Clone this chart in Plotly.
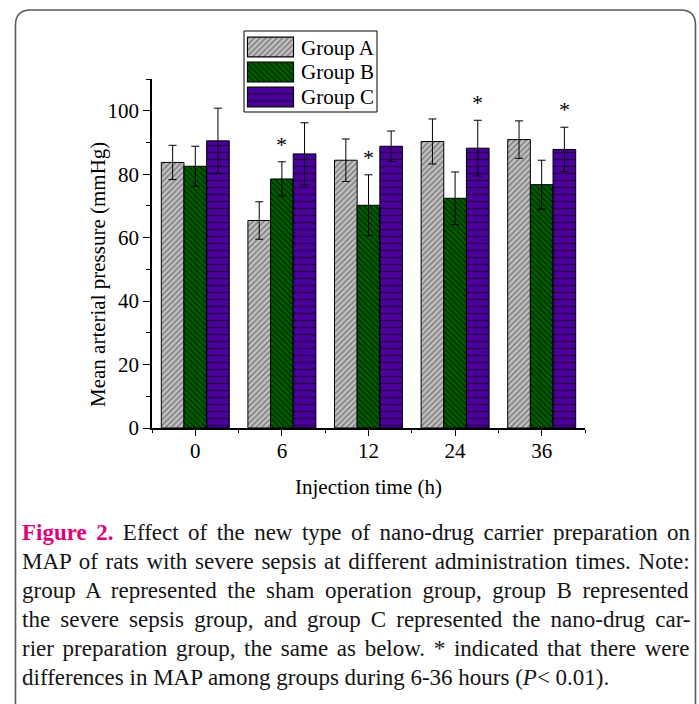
import plotly.graph_objects as go

# ---- data ----
times = ["0", "6", "12", "24", "36"]
groups = ["Group A", "Group B", "Group C"]
group_a = [83.7, 65.4, 84.4, 90.3, 90.9]
group_a_err = [5.4, 5.9, 6.7, 7.1, 5.9]
group_b = [82.5, 78.5, 70.2, 72.4, 76.7]
group_b_err = [6.3, 5.4, 9.6, 8.3, 7.7]
group_c = [90.5, 86.4, 88.8, 88.2, 87.8]
group_c_err = [10.3, 9.8, 4.8, 8.8, 7.0]
star_group = [None, "Group B", "Group B", "Group C", "Group C"]
y_ticks = [0, 20, 40, 60, 80, 100]

caption_lines = [
    "Figure 2. Effect of the new type of nano-drug carrier preparation on",
    "MAP of rats with severe sepsis at different administration times. Note:",
    "group A represented the sham operation group, group B represented",
    "the severe sepsis group, and group C represented the nano-drug car-",
    "rier preparation group, the same as below. * indicated that there were",
    "differences in MAP among groups during 6-36 hours (P< 0.01).",
]

W, H = 699, 704
FONT = "Liberation Serif, Times New Roman, serif"
CAP_SIZE = 23

# Times (Liberation Serif compatible) advance widths, 1/1000 em
_w = {' ': 250, '.': 250, ',': 250, ':': 278, '-': 333, '*': 500, '(': 333, ')': 333, '<': 564}
_w.update({d: 500 for d in "0123456789"})
_w.update(dict(zip("ABCDEFGHIJKLMNOPQRSTUVWXYZ",
                   [722, 667, 667, 722, 611, 556, 722, 722, 333, 389, 722, 611, 889,
                    722, 722, 556, 722, 667, 556, 611, 722, 722, 944, 722, 722, 611])))
_w.update(dict(zip("abcdefghijklmnopqrstuvwxyz",
                   [444, 500, 444, 500, 444, 333, 500, 500, 278, 278, 500, 278, 778,
                    500, 500, 500, 500, 333, 389, 278, 500, 500, 722, 500, 500, 444])))


def text_width(s, size):
    return sum(_w.get(c, 500) for c in s) * size / 1000.0


def px(x):
    return x / W


def py(y):
    return 1 - y / H


styles = {
    "Group A": dict(color="#c3c3c3", pattern=dict(shape="/", bgcolor="#c3c3c3", fgcolor="#3c3c3c", size=4, solidity=0.4)),
    "Group B": dict(color="#005f00", pattern=dict(shape="\\", bgcolor="#005f00", fgcolor="#000000", size=4, solidity=0.4)),
    "Group C": dict(color="#4a0099", pattern=dict(shape="-", bgcolor="#4a0099", fgcolor="#000000", size=7, solidity=0.18)),
}

series = {
    "Group A": (group_a, group_a_err),
    "Group B": (group_b, group_b_err),
    "Group C": (group_c, group_c_err),
}

xpos = list(range(len(times)))
bargap = 0.215

fig = go.Figure()
for g in groups:
    vals, errs = series[g]
    fig.add_trace(go.Bar(
        x=xpos, y=vals, name=g,
        marker=dict(color=styles[g]["color"], pattern=styles[g]["pattern"],
                    line=dict(color="black", width=1)),
        error_y=dict(type="data", array=errs, visible=True, color="black", thickness=1, width=4),
        showlegend=False, xaxis="x", yaxis="y",
    ))

# custom legend swatches (large pattern swatches as in original)
for g in groups:
    fig.add_trace(go.Bar(
        y=[g], x=[1], orientation="h", name=g,
        marker=dict(color=styles[g]["color"], pattern=styles[g]["pattern"],
                    line=dict(color="black", width=1.2)),
        showlegend=False, xaxis="x2", yaxis="y2", hoverinfo="skip",
    ))

bw = (1 - bargap) / 3
offsets = {"Group A": -bw, "Group B": 0.0, "Group C": bw}
annotations = []
for i, sg in enumerate(star_group):
    if sg is None:
        continue
    vals, errs = series[sg]
    annotations.append(dict(
        x=i + offsets[sg], y=vals[i] + errs[i], xref="x", yref="y",
        text="*", showarrow=False, yanchor="bottom", yshift=3,
        font=dict(family=FONT, size=22, color="black"),
    ))

# legend labels
row_centers = [47.5, 71.5, 97.5]
for g, yc in zip(groups, row_centers):
    annotations.append(dict(
        x=px(299), y=py(yc), xref="paper", yref="paper", text=g,
        showarrow=False, xanchor="left", yanchor="middle",
        font=dict(family=FONT, size=21, color="black"),
    ))

# axis titles
annotations.append(dict(
    x=px(98), y=py(275), xref="paper", yref="paper",
    text="Mean arterial pressure (mmHg)", textangle=-90, showarrow=False,
    xanchor="center", yanchor="middle", font=dict(family=FONT, size=21, color="black"),
))
annotations.append(dict(
    x=px(368), y=py(487), xref="paper", yref="paper",
    text="Injection time (h)", showarrow=False,
    xanchor="center", yanchor="middle", font=dict(family=FONT, size=21, color="black"),
))

# caption (justified like the original, except the last line)
line_y = [532, 561, 590, 619, 648, 677]
left, right = 20, 689
n = len(caption_lines)
for k, (t, yc) in enumerate(zip(caption_lines, line_y)):
    natural = text_width(t, CAP_SIZE)
    if k == 0:
        natural += 222 * CAP_SIZE / 1000.0  # bold "Figure 2."
    if "(P<" in t:
        natural += 55 * CAP_SIZE / 1000.0   # italic P
    markup = t.replace("<", "&lt;")
    markup = markup.replace("(P&lt;", "(<i>P</i>&lt;")
    if markup.startswith("Figure 2."):
        markup = "<span style='fill:#e3007b'><b>Figure 2.</b></span>" + markup[len("Figure 2."):]
    if k < n - 1:
        spaces = t.count(" ")
        extra = max(0.0, (right - left - natural) / spaces)
        markup = f"<span style='word-spacing:{extra:.2f}px'>" + markup + "</span>"
    annotations.append(dict(
        x=px(left), y=py(yc), xref="paper", yref="paper", text=markup,
        showarrow=False, xanchor="left", yanchor="middle",
        font=dict(family=FONT, size=CAP_SIZE, color="#141414"),
    ))

shapes = [
    # outer rounded border
    dict(type="path", xref="paper", yref="paper",
         path=(f"M {px(15.5)},{py(720)} L {px(15.5)},{py(25)} "
               f"Q {px(15.5)},{py(10)} {px(30.5)},{py(10)} "
               f"L {px(680.5)},{py(10)} "
               f"Q {px(695.5)},{py(10)} {px(695.5)},{py(25)} "
               f"L {px(695.5)},{py(720)}"),
         line=dict(color="#5a5a5a", width=1.6)),
    # legend frame
    dict(type="rect", xref="paper", yref="paper",
         x0=px(244), x1=px(377), y0=py(112), y1=py(31),
         line=dict(color="black", width=1)),
]

fig.update_layout(
    width=W, height=H, autosize=False,
    margin=dict(l=0, r=0, t=0, b=0),
    paper_bgcolor="white", plot_bgcolor="white",
    barmode="group", bargap=bargap, bargroupgap=0,
    font=dict(family=FONT, size=21, color="black"),
    showlegend=False,
    xaxis=dict(
        domain=[px(152), px(585)], range=[-0.5, 4.5],
        tickmode="array", tickvals=xpos, ticktext=times,
        ticks="outside", ticklen=6, tickwidth=1.2, tickcolor="black",
        minor=dict(tickmode="linear", tick0=-0.5, dtick=1, ticks="outside", ticklen=3, tickwidth=1, tickcolor="black"),
        showline=True, linecolor="black", linewidth=1.5,
        showgrid=False, zeroline=False, automargin=False,
        tickfont=dict(family=FONT, size=21, color="black"),
        ticklabelstandoff=-3,
        anchor="y", fixedrange=True,
    ),
    yaxis=dict(
        domain=[py(428), py(79)], range=[0, 110],
        tickmode="array", tickvals=y_ticks,
        ticks="outside", ticklen=7, tickwidth=1.2, tickcolor="black",
        minor=dict(tickmode="linear", tick0=10, dtick=20, ticks="outside", ticklen=4, tickwidth=1, tickcolor="black"),
        showline=True, linecolor="black", linewidth=1.5,
        showgrid=False, zeroline=False, automargin=False,
        tickfont=dict(family=FONT, size=21, color="black"),
        anchor="x", fixedrange=True,
    ),
    xaxis2=dict(domain=[px(246.5), px(294.5)], range=[-0.02, 1.02], visible=False,
                anchor="y2", fixedrange=True),
    yaxis2=dict(domain=[py(109.5), py(34.5)], visible=False, anchor="x2",
                autorange="reversed", categoryorder="array", categoryarray=groups,
                fixedrange=True),
    annotations=annotations,
    shapes=shapes,
)

fig.write_html("out.html")
